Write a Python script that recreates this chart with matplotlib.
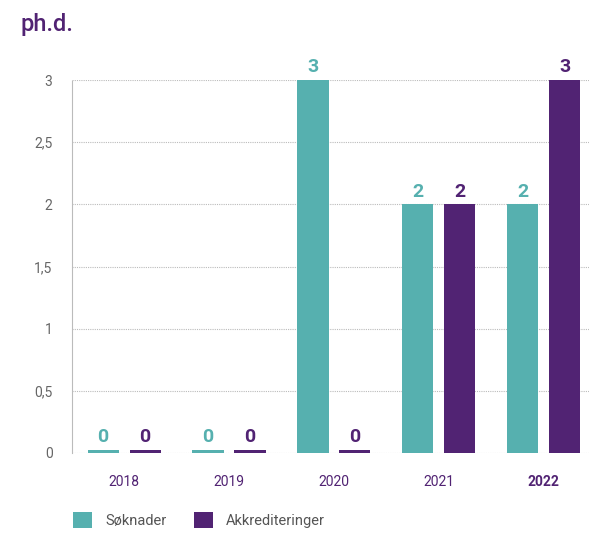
import matplotlib
matplotlib.use("Agg")
import matplotlib.pyplot as plt
from matplotlib.patches import Patch

years = ["2018", "2019", "2020", "2021", "2022"]
soknader = [0, 0, 3, 2, 2]
akkrediteringer = [0, 0, 0, 2, 3]
series_names = ["Søknader", "Akkrediteringer"]
yticks = [0, 0.5, 1, 1.5, 2, 2.5, 3]
ytick_labels = ["0", "0,5", "1", "1,5", "2", "2,5", "3"]

TEAL = "#56B0AF"
PURPLE = "#512373"

plt.rcParams['font.family'] = ['Roboto', 'DejaVu Sans']

fig = plt.figure(figsize=(5.89, 5.33), dpi=100)
ax = fig.add_axes([72/589, 1-453/533, (589-72)/589, (453-80)/533])

w = 0.296
off = 0.2
stub = 0.025
x = list(range(len(years)))
for vals, color, sgn in [(soknader, TEAL, -1), (akkrediteringer, PURPLE, 1)]:
    xs = [i + sgn*off for i in x]
    hs = [v if v > 0 else stub for v in vals]
    ax.bar(xs, hs, width=w, color=color, zorder=3)
    for xi, v in zip(xs, vals):
        ax.text(xi, max(v, stub) + 0.03, str(v), ha='center', va='bottom',
                color=color, fontsize=14, fontweight='bold', zorder=4)

ax.set_xlim(-0.496, 4.43)
ax.set_ylim(0, 3)
ax.set_yticks(yticks)
ax.set_yticklabels(ytick_labels, color="#666666", fontsize=10)
ax.set_xticks(x)
ax.set_xticklabels(years, color=PURPLE, fontsize=10)
for lbl in ax.get_xticklabels():
    if lbl.get_text() == "2022":
        lbl.set_fontweight('bold')
ax.tick_params(axis='both', length=0)
ax.tick_params(axis='y', pad=14)
ax.tick_params(axis='x', pad=16)
ax.grid(axis='y', linestyle=(0, (1, 1)), color="#bbbbbb", linewidth=0.8, zorder=0)
for s in ['top', 'right', 'bottom']:
    ax.spines[s].set_visible(False)
ax.spines['left'].set_linestyle((0, (1, 1)))
ax.spines['left'].set_color("#bbbbbb")
ax.spines['left'].set_linewidth(0.8)

fig.text(20/589, 1-31/533, "ph.d.", color=PURPLE, fontsize=17, fontweight='medium', ha='left', va='baseline')

handles = [Patch(facecolor=TEAL), Patch(facecolor=PURPLE)]
fig.legend(handles, series_names, loc='center left', bbox_to_anchor=(60/589, 1-520/533),
           ncol=2, frameon=False, fontsize=10.5, handlelength=1.3, handleheight=1.3,
           columnspacing=1.9, handletextpad=0.9, labelcolor="#555555")

fig.savefig("out.png", dpi=100)
